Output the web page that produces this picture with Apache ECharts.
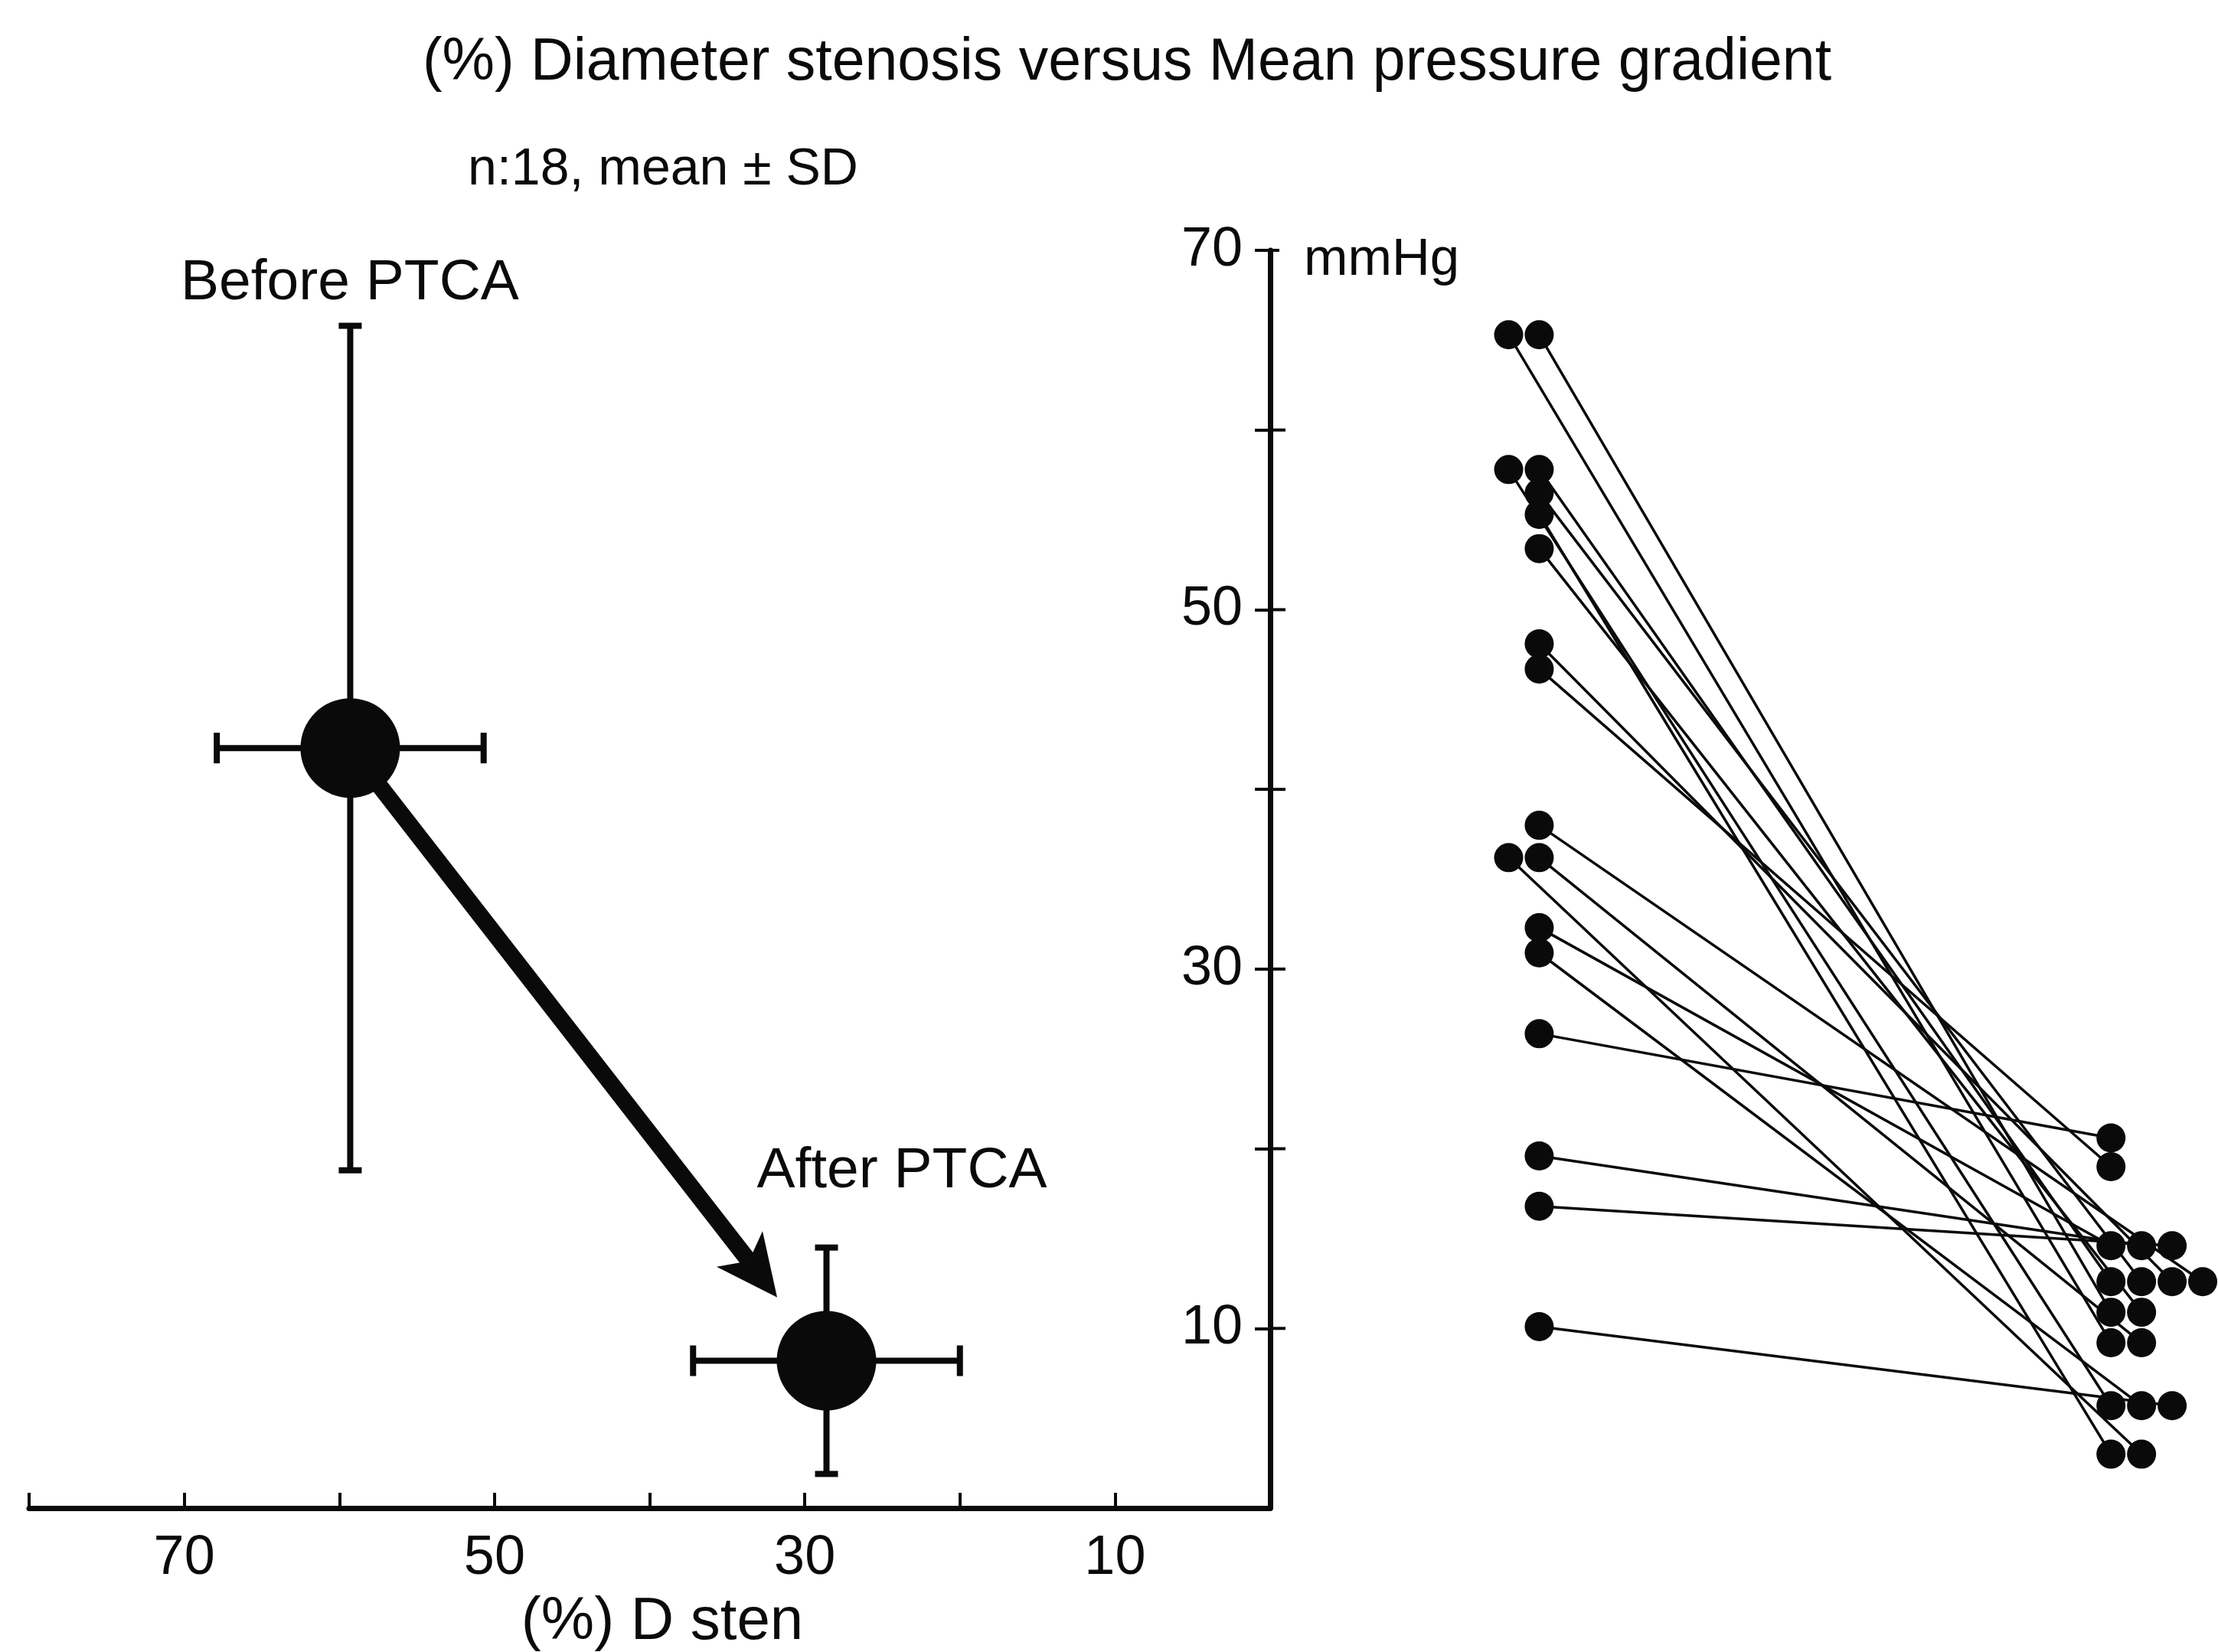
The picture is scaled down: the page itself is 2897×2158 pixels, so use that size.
<!DOCTYPE html>
<html>
<head>
<meta charset="utf-8">
<script src="https://cdn.jsdelivr.net/npm/echarts/dist/echarts.min.js"></script>
<style>
html,body{margin:0;padding:0;background:#ffffff;}
#chart{width:2897px;height:2158px;}
</style>
</head>
<body>
<div id="chart"></div>
<script>
// ---------------- DATA ----------------
const titleText = '(%) Diameter stenosis versus Mean pressure gradient';
const subtitleText = 'n:18, mean \u00b1 SD';
const groupLabels = ['Before PTCA', 'After PTCA'];
const xAxisName = '(%) D sten';
const yAxisName = 'mmHg';
const xTickLabels = ['70', '50', '30', '10'];
const yTickLabels = ['70', '50', '30', '10'];

// group means (left panel): diameter stenosis (%) and mean gradient (mmHg)
const meanSten = [59.3, 28.6];
const sdSten = [8.6, 8.6];
const meanGrad = [42.3, 8.2];
const sdGrad = [23.5, 6.3];

// individual patients (right panel), mean pressure gradient mmHg
const gradBefore = [65.3, 65.3, 57.8, 57.8, 56.5, 55.3, 53.4, 48.1, 46.7, 38.0, 36.2, 36.2, 32.3, 30.9, 26.4, 19.6, 16.8, 10.1];
const gradAfter  = [ 9.2, 10.9,  5.7, 12.6, 12.6,  3.0, 10.9, 12.6, 19.0, 12.6,  3.0,  9.2, 14.6,  5.7, 20.6, 14.6, 14.6,  5.7];

// ---------------- LAYOUT ----------------
const FONT = 'Liberation Sans';
const INK = '#0a0a0a';
const AXIS_X = 1659, TOP = 327, PLOT_H = 1643;
const Y_MIN = 0, Y_MAX = 70, Y_STEP = 10;
const BEFORE_COL = 8.8, AFTER_COL = 27.5;   // column positions on hidden dot-plot axis (units of one dot step)

// dot-plot slots computed from repeated values
function beforeSlots(vals) {
  return vals.map((v, i) => {
    const dupLater = vals.some((w, j) => j > i && w === v);
    const dupEarlier = vals.some((w, j) => j < i && w === v);
    return (dupLater && !dupEarlier) ? -1 : 0;
  });
}
function afterSlots(vals) {
  return vals.map((v, i) => vals.slice(0, i).filter(w => w === v).length);
}
const bSlot = beforeSlots(gradBefore);
const aSlot = afterSlots(gradAfter);

const tickFmt = (labels) => (v) => labels.includes(String(v)) ? String(v) : '';

const yTickValues = [];
for (let v = Y_MIN + Y_STEP; v <= Y_MAX; v += Y_STEP) yTickValues.push(v);

const patientSeries = gradBefore.map((b, i) => ({
  type: 'line',
  xAxisIndex: 1, yAxisIndex: 1,
  data: [[BEFORE_COL + bSlot[i], b], [AFTER_COL + aSlot[i], gradAfter[i]]],
  symbol: 'circle', symbolSize: 38,
  itemStyle: {color: INK, opacity: 1},
  lineStyle: {color: INK, width: 3.5},
  clip: false, silent: true, z: 3
}));

const textEl = (id, x, y, text, size, align) => ({
  type: 'text', id, x, y, z: 10,
  style: {text, fontSize: size, fontFamily: FONT, fill: INK, textAlign: align, textVerticalAlign: 'middle', align: align, verticalAlign: 'middle'}
});

const option = {
  backgroundColor: '#ffffff',
  animation: false,
  grid: [
    {left: 38, width: AXIS_X - 38, top: TOP, height: PLOT_H},
    {left: AXIS_X, width: 2897 - AXIS_X, top: TOP, height: PLOT_H}
  ],
  xAxis: [
    {
      gridIndex: 0, type: 'value', min: 0, max: 80, interval: 10, inverse: true,
      axisLine: {show: true, onZero: false, lineStyle: {color: INK, width: 7}},
      axisTick: {show: true, inside: true, length: 20, lineStyle: {color: INK, width: 4}},
      axisLabel: {formatter: tickFmt(xTickLabels), fontSize: 72, fontFamily: FONT, color: INK, margin: 30},
      splitLine: {show: false}
    },
    {gridIndex: 1, type: 'value', min: 0, max: 31, show: false}
  ],
  yAxis: [
    {
      gridIndex: 0, type: 'value', position: 'right', min: Y_MIN, max: Y_MAX, interval: Y_STEP,
      axisLine: {show: true, onZero: false, lineStyle: {color: INK, width: 7}},
      axisTick: {show: true, inside: true, length: 20, lineStyle: {color: INK, width: 4}},
      axisLabel: {inside: true, formatter: tickFmt(yTickLabels), fontSize: 72, fontFamily: FONT, color: INK, margin: 36},
      splitLine: {show: false}
    },
    {
      gridIndex: 1, type: 'value', min: Y_MIN, max: Y_MAX, interval: Y_STEP, show: false
    }
  ],
  graphic: [
    textEl('t0', 1472, 83, titleText, 77, 'center'),
    textEl('t1', 866, 222, subtitleText, 68, 'center'),
    textEl('t2', 236, 370, groupLabels[0], 75, 'left'),
    textEl('t3', 1178, 1530, groupLabels[1], 75, 'center'),
    textEl('t4', 1703, 340, yAxisName, 69, 'left'),
    textEl('t5', 865, 2119, xAxisName, 78, 'center')
  ],
  series: [
    {
      // error bars (mean ± SD in both directions)
      type: 'custom', xAxisIndex: 0, yAxisIndex: 0, silent: true, z: 2,
      data: meanSten.map((x, i) => [x, meanGrad[i], sdSten[i], sdGrad[i]]),
      encode: {x: 0, y: 1},
      renderItem: function (params, api) {
        const x = api.value(0), y = api.value(1), sx = api.value(2), sy = api.value(3);
        const t = api.coord([x, y + sy]), b = api.coord([x, y - sy]);
        const l = api.coord([x + sx, y]), r = api.coord([x - sx, y]);
        const st = {stroke: INK, lineWidth: 8, fill: null};
        const cw = 15, ch = 20;
        const seg = (x1, y1, x2, y2) => ({type: 'line', shape: {x1, y1, x2, y2}, style: st});
        return {type: 'group', children: [
          seg(t[0], t[1], b[0], b[1]),
          seg(l[0], l[1], r[0], r[1]),
          seg(t[0] - cw, t[1], t[0] + cw, t[1]),
          seg(b[0] - cw, b[1], b[0] + cw, b[1]),
          seg(l[0], l[1] - ch, l[0], l[1] + ch),
          seg(r[0], r[1] - ch, r[0], r[1] + ch)
        ]};
      }
    },
    {
      type: 'scatter', xAxisIndex: 0, yAxisIndex: 0, silent: true, z: 4,
      data: meanSten.map((x, i) => [x, meanGrad[i]]),
      symbol: 'circle', symbolSize: 130,
      itemStyle: {color: INK, opacity: 1}
    },
    {
      // arrow from before-mean to after-mean
      type: 'custom', xAxisIndex: 0, yAxisIndex: 0, silent: true, z: 3,
      data: [[meanSten[0], meanGrad[0], meanSten[1], meanGrad[1]]],
      encode: {x: [0, 2], y: [1, 3]},
      renderItem: function (params, api) {
        const p0 = api.coord([api.value(0), api.value(1)]);
        const p1 = api.coord([api.value(2), api.value(3)]);
        const dx = p1[0] - p0[0], dy = p1[1] - p0[1];
        const len = Math.sqrt(dx * dx + dy * dy);
        const ux = dx / len, uy = dy / len, px = -uy, py = ux;
        const stop = 105, headLen = 80, headHalf = 38;
        const tip = [p1[0] - ux * stop, p1[1] - uy * stop];
        const base = [tip[0] - ux * headLen, tip[1] - uy * headLen];
        const neck = [tip[0] - ux * headLen * 0.75, tip[1] - uy * headLen * 0.75];
        return {type: 'group', children: [
          {type: 'line', shape: {x1: p0[0], y1: p0[1], x2: neck[0], y2: neck[1]}, style: {stroke: INK, lineWidth: 22}},
          {type: 'polygon', shape: {points: [tip, [base[0] + px * headHalf, base[1] + py * headHalf], neck, [base[0] - px * headHalf, base[1] - py * headHalf]]}, style: {fill: INK}}
        ]};
      }
    }
  ].concat(patientSeries)
};

const chart = echarts.init(document.getElementById('chart'), null, {renderer: 'canvas'});
chart.setOption(option);

// right-hand halves of the crossing y-axis ticks, placed through the axis scale
const axisPx = chart.convertToPixel({xAxisIndex: 0}, 0);
const tickEls = yTickValues.map((v, i) => {
  const py = chart.convertToPixel({yAxisIndex: 0}, v);
  const len = v === Y_MAX ? 12 : 20;
  return {type: 'line', id: 'rt' + i, z: 10, shape: {x1: axisPx, y1: py, x2: axisPx + len, y2: py}, style: {stroke: INK, lineWidth: 4}};
});
chart.setOption({graphic: tickEls});
</script>
</body>
</html>
